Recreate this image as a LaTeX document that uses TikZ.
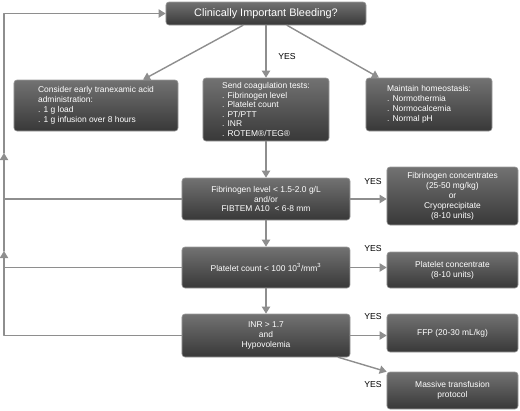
\documentclass[tikz,border=0pt]{standalone}
\usepackage{fontspec}
\setmainfont{Liberation Sans}
\usetikzlibrary{arrows.meta,calc}
\definecolor{boxtop}{HTML}{727272}
\definecolor{boxbot}{HTML}{383838}
\definecolor{boxedge}{HTML}{9C9C9C}
\definecolor{linkgray}{HTML}{8E8E8E}
\begin{document}
\begin{tikzpicture}[x=0.03cm, y=-0.03cm, line cap=round, line join=round, >={Triangle[length=6pt,width=7pt]},
	box/.style={draw=boxedge, line width=0.5pt, rounded corners=2.5pt, top color=boxtop, bottom color=boxbot, text=white, align=left, inner sep=0pt, font=\fontsize{7.2}{8.5}\selectfont},
	midbox/.style={box, align=center},
	link/.style={draw=linkgray, line width=1.2pt},
	yes/.style={font=\fontsize{7.4}{9}\selectfont}]
	\useasboundingbox (0,0) rectangle (520,411);
	% first row
	\node[box, align=center, minimum width=6cm, minimum height=0.69cm, font=\fontsize{9.3}{11}\selectfont] (bleed) at (266,13.5) {Clinically Important Bleeding?};
	\node[box, minimum width=4.92cm, minimum height=1.53cm] (txa) at (96,105.5) {Consider early tranexamic acid\\administration:\\. 1 g load\\. 1 g infusion over 8 hours};
	\node[box, minimum width=3.78cm, minimum height=1.89cm, font=\fontsize{7.2}{8.2}\selectfont] (tests) at (266,109.5) {Send coagulation tests:\\. Fibrinogen level\\. Platelet count\\. PT/PTT\\. INR\\. ROTEM\textregistered/TEG\textregistered};
	\node[box, minimum width=3.78cm, minimum height=1.59cm] (homeo) at (429,104.5) {Maintain homeostasis:\\. Normothermia\\. Normocalcemia\\. Normal pH};
	% checks and treatments
	\node[midbox, minimum width=5.04cm, minimum height=1.26cm] (fib) at (266,199) {Fibrinogen level < 1.5-2.0 g/L\\and/or\\FIBTEM A10\ \ < 6-8 mm};
	\node[midbox, minimum width=3.93cm, minimum height=1.74cm] (fibc) at (452.5,196) {Fibrinogen concentrates\\(25-50 mg/kg)\\or\\Cryoprecipitate\\(8-10 units)};
	\node[midbox, minimum width=5.04cm, minimum height=1.23cm] (plt) at (266,267.5) {Platelet count < 100 10\textsuperscript{3}/mm\textsuperscript{3}};
	\node[midbox, minimum width=3.93cm, minimum height=1.08cm] (pltc) at (452.5,270) {Platelet concentrate\\(8-10 units)};
	\node[midbox, minimum width=5.04cm, minimum height=1.29cm] (inr) at (266,335.5) {INR > 1.7\\and\\Hypovolemia};
	\node[midbox, minimum width=3.93cm, minimum height=1.14cm] (ffp) at (452.5,333) {FFP (20-30 mL/kg)};
	\node[midbox, minimum width=3.93cm, minimum height=1.11cm] (mtp) at (452.5,390.5) {Massive transfusion\\protocol};
	% arrows
	\draw[link,->] ($(bleed.south)+(-23,0)$) -- ($(txa.north)+(47,0)$);
	\draw[link,->] (bleed.south) -- (tests.north);
	\draw[link,->] ($(bleed.south)+(21,0)$) -- ($(homeo.north)+(-50,0)$);
	\draw[link,->] (tests.south) -- (fib.north);
	\draw[link,->] (fib.south) -- (plt.north);
	\draw[link,->] (plt.south) -- (inr.north);
	\draw[link,->] (fib.east) -- (fib.east -| fibc.west);
	\draw[link,->] (plt.east) -- (plt.east -| pltc.west);
	\draw[link,->] (inr.east) -- (inr.east -| ffp.west);
	\draw[link,->] ($(inr.south east)+(-12,0)$) -- (mtp.north west);
	% loop back to the top
	\coordinate (upA) at (4,251);
	\coordinate (upB) at (4,153);
	\draw[link,->] (inr.west) -| (upA);
	\draw[link,->] (upA) -- (upB);
	\draw[link,->] (upB) |- (bleed.west);
	\draw[link] (fib.west) -- (fib.west -| upA);
	\draw[link] (plt.west) -- (plt.west -| upA);
	% labels
	\node[yes] (yes0) at (287,57) {YES};
	\node[yes] (yes1) at (373,182) {YES};
	\node[yes] (yes2) at (373,249) {YES};
	\node[yes] (yes3) at (373,317) {YES};
	\node[yes] (yes4) at (373,385) {YES};
\end{tikzpicture}
\end{document}
